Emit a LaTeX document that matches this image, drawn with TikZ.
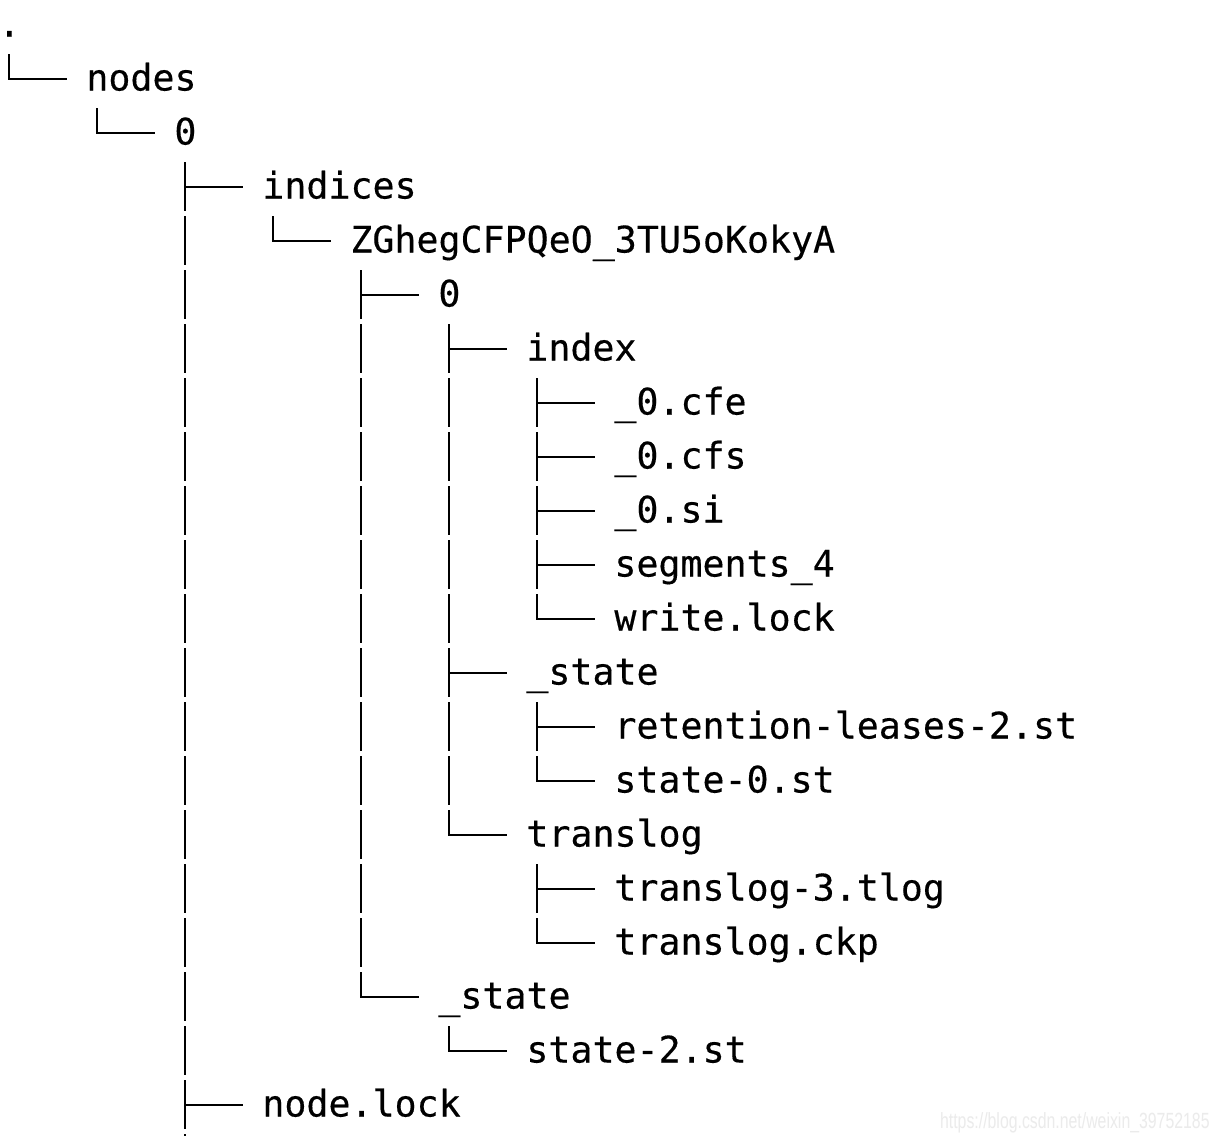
\documentclass[tikz,border=0pt]{standalone}
\usepackage{fontspec}
\usepackage{graphicx}
\newfontfamily\treefont{DejaVu Sans Mono}[FakeBold=0.35]
\newfontfamily\wmfont{Liberation Sans}
\tikzset{
  entry/.style={font=\treefont\fontsize{18.3pt}{22pt}\selectfont, inner sep=0pt,
    text height=14pt, text depth=2.5pt, anchor=west, text=black},
  vstem/.style={line width=1.4pt, draw=black, dash pattern=on 24.5pt off 2.5pt},
  hstem/.style={line width=1.4pt, draw=black, line cap=rect, shorten >=10pt},
}
\newcommand\twig[2]{%
  \draw[vstem] (#1) -- (#1 |- #2.west);
  \draw[hstem] (#1 |- #2.west) -- (#2.west);
}
\newcommand\stemof[1]{\coordinate (#1-s) at ([xshift=5.5pt,yshift=-14.5pt]#1.west);}
\begin{document}
\begin{tikzpicture}[x=0.5pt,y=-0.5pt]
\useasboundingbox[fill=white] (0,0) rectangle (1222,1136);
% rows: line y = 25 + 54 r
\node[entry] (root)   at (-2,25)   {.};
\node[entry] (nodes)  at (86,79)   {nodes};
\node[entry] (n0)     at (174,133) {0};
\node[entry] (indices) at (262,187) {indices};
\node[entry] (zg)     at (350,241) {ZGhegCFPQeO\_3TU5oKokyA};
\node[entry] (s0)     at (438,295) {0};
\node[entry] (index)  at (526,349) {index};
\node[entry] (cfe)    at (614,403) {\_0.cfe};
\node[entry] (cfs)    at (614,457) {\_0.cfs};
\node[entry] (si)     at (614,511) {\_0.si};
\node[entry] (seg)    at (614,565) {segments\_4};
\node[entry] (wlock)  at (614,619) {write.lock};
\node[entry] (state1) at (526,673) {\_state};
\node[entry] (ret)    at (614,727) {retention-leases-2.st};
\node[entry] (st0)    at (614,781) {state-0.st};
\node[entry] (tlog)   at (526,835) {translog};
\node[entry] (tlog3)  at (614,889) {translog-3.tlog};
\node[entry] (ckp)    at (614,943) {translog.ckp};
\node[entry] (state2) at (438,997) {\_state};
\node[entry] (st2)    at (526,1051) {state-2.st};
\node[entry] (nlock)  at (262,1105) {node.lock};
% stems
\stemof{root}\stemof{nodes}\stemof{n0}\stemof{indices}\stemof{zg}
\stemof{s0}\stemof{index}\stemof{state1}\stemof{tlog}\stemof{state2}
\coordinate (cut) at (185,1136);
% connectors
\twig{root-s}{nodes}
\twig{nodes-s}{n0}
\twig{n0-s}{indices}
\twig{n0-s}{nlock}
\draw[vstem] (n0-s) -- (cut);
\twig{indices-s}{zg}
\twig{zg-s}{s0}
\twig{zg-s}{state2}
\twig{s0-s}{index}
\twig{s0-s}{state1}
\twig{s0-s}{tlog}
\twig{index-s}{cfe}
\twig{index-s}{cfs}
\twig{index-s}{si}
\twig{index-s}{seg}
\twig{index-s}{wlock}
\twig{state1-s}{ret}
\twig{state1-s}{st0}
\twig{tlog-s}{tlog3}
\twig{tlog-s}{ckp}
\twig{state2-s}{st2}
% watermark
\node[anchor=base east, inner sep=0pt, text=black!8, font=\wmfont\fontsize{11pt}{13pt}\selectfont] (wm) at (1210,1128)
  {\scalebox{0.72}[1]{https://blog.csdn.net/weixin\_39752185}};
\end{tikzpicture}
\end{document}
